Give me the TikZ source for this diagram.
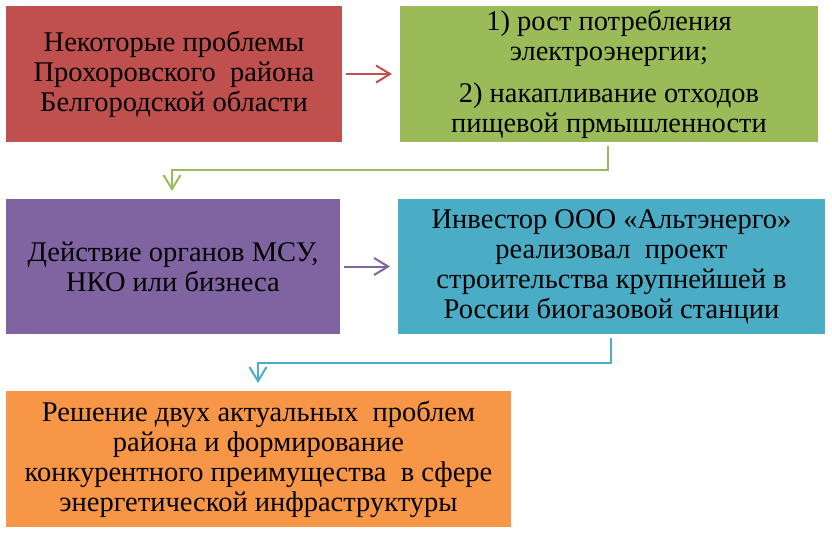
\documentclass[tikz,border=0pt]{standalone}
\usepackage{fontspec}
\setmainfont{Liberation Serif}
\usetikzlibrary{arrows.meta}
\definecolor{cred}{HTML}{C0504D}
\definecolor{cgreen}{HTML}{9BBB59}
\definecolor{cpurple}{HTML}{8064A2}
\definecolor{cteal}{HTML}{4BACC6}
\definecolor{corange}{HTML}{F79646}
\tikzset{
  boxn/.style={anchor=north west, inner sep=0pt, outer sep=0pt, align=center,
    font=\fontsize{28.5}{30}\selectfont},
  conn/.style={line width=2pt, -{Straight Barb[length=14pt,width=17pt,line width=2pt]}}
}
\begin{document}
\begin{tikzpicture}[x=1pt,y=-1pt]
\useasboundingbox (0,0) rectangle (832,533);
\node[boxn, fill=cred, minimum width=336pt, minimum height=136pt] (red) at (6,6)
  {Некоторые проблемы\\Прохоровского\ \ района\\Белгородской области};
\node[boxn, fill=cgreen, minimum width=418pt, minimum height=136pt] (green) at (400,6)
  {1) рост потребления\\электроэнергии;\\[12pt]2) накапливание отходов\\пищевой прмышленности};
\node[boxn, fill=cpurple, minimum width=334pt, minimum height=135pt] (purple) at (6,199)
  {Действие органов МСУ,\\НКО или бизнеса};
\node[boxn, fill=cteal, minimum width=427pt, minimum height=135pt] (teal) at (398,199)
  {Инвестор ООО «Альтэнерго»\\реализовал\ \ проект\\строительства крупнейшей в\\России биогазовой станции};
\node[boxn, fill=corange, minimum width=505pt, minimum height=136pt] (orange) at (6,391)
  {Решение двух актуальных\ \ проблем\\района и формирование\\конкурентного преимущества\ \ в сфере\\энергетической инфраструктуры};
\coordinate (g1) at (608,146);
\coordinate (g2) at (608,170);
\coordinate (g3) at (172,170);
\coordinate (g4) at (172,191);
\coordinate (t1) at (611,338);
\coordinate (t2) at (611,363);
\coordinate (t3) at (258,363);
\coordinate (t4) at (258,383);
\draw[conn, cred] ([xshift=4pt]red.east) -- ([xshift=-8pt]green.west);
\draw[conn, cpurple] ([xshift=4pt]purple.east) -- ([xshift=-8pt]teal.west);
\draw[conn, cgreen] (g1) -- (g2) -- (g3) -- (g4);
\draw[conn, cteal] (t1) -- (t2) -- (t3) -- (t4);
\end{tikzpicture}
\end{document}
